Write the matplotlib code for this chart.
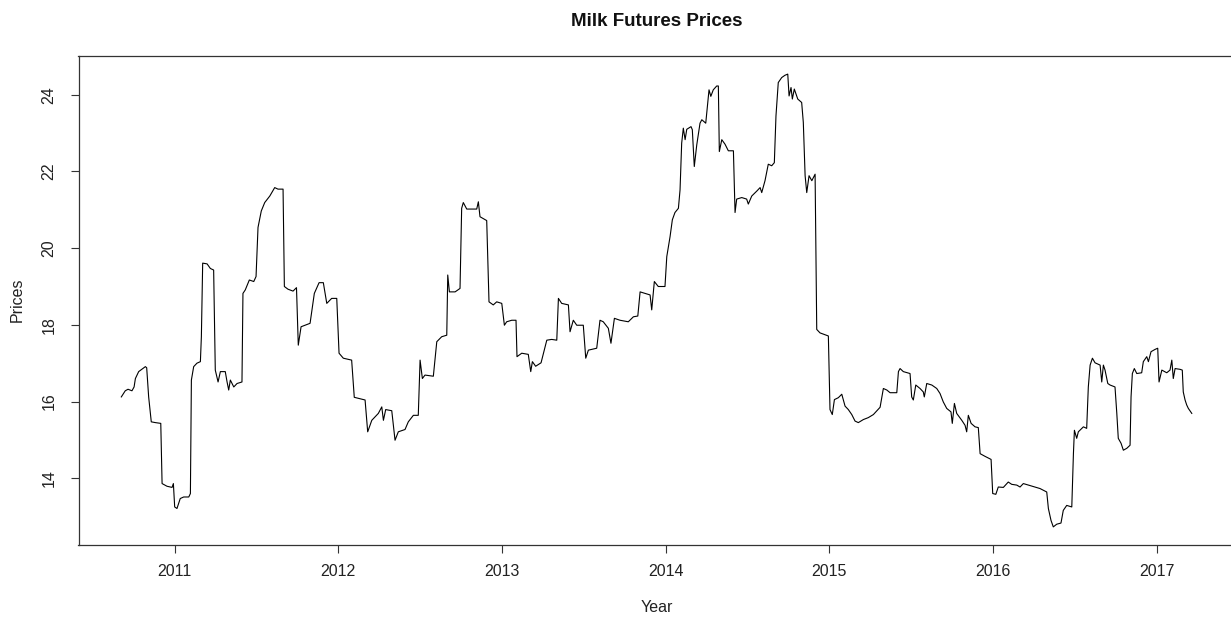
import matplotlib
matplotlib.use("Agg")
import matplotlib.pyplot as plt

plt.rcParams['font.family'] = ['Liberation Sans', 'DejaVu Sans']

title = "Milk Futures Prices"
xlabel = "Year"
ylabel = "Prices"
year_ticks = [2011, 2012, 2013, 2014, 2015, 2016, 2017]
price_ticks = [14, 16, 18, 20, 22, 24]

years = [
    2010.675, 2010.699, 2010.716, 2010.740, 2010.753, 2010.761, 2010.781, 2010.806, 2010.822, 2010.830,
    2010.842, 2010.858, 2010.883, 2010.916, 2010.924, 2010.954, 2010.985, 2010.993, 2011.001, 2011.015,
    2011.035, 2011.056, 2011.087, 2011.097, 2011.103, 2011.117, 2011.137, 2011.158, 2011.164, 2011.172,
    2011.199, 2011.219, 2011.239, 2011.249, 2011.266, 2011.280, 2011.310, 2011.321, 2011.331, 2011.341,
    2011.362, 2011.382, 2011.412, 2011.418, 2011.432, 2011.457, 2011.484, 2011.498, 2011.510, 2011.530,
    2011.551, 2011.582, 2011.612, 2011.632, 2011.663, 2011.671, 2011.693, 2011.724, 2011.745, 2011.756,
    2011.773, 2011.828, 2011.854, 2011.883, 2011.909, 2011.930, 2011.960, 2011.991, 2012.005, 2012.031,
    2012.082, 2012.098, 2012.164, 2012.180, 2012.205, 2012.245, 2012.266, 2012.276, 2012.290, 2012.327,
    2012.347, 2012.367, 2012.408, 2012.428, 2012.459, 2012.489, 2012.500, 2012.514, 2012.530, 2012.581,
    2012.602, 2012.632, 2012.663, 2012.669, 2012.679, 2012.714, 2012.744, 2012.754, 2012.764, 2012.785,
    2012.816, 2012.846, 2012.856, 2012.866, 2012.907, 2012.921, 2012.947, 2012.968, 2012.999, 2013.015,
    2013.029, 2013.060, 2013.086, 2013.092, 2013.121, 2013.161, 2013.176, 2013.186, 2013.206, 2013.239,
    2013.274, 2013.304, 2013.335, 2013.345, 2013.365, 2013.406, 2013.416, 2013.436, 2013.457, 2013.497,
    2013.512, 2013.528, 2013.579, 2013.599, 2013.619, 2013.650, 2013.666, 2013.687, 2013.721, 2013.772,
    2013.803, 2013.830, 2013.844, 2013.874, 2013.905, 2013.915, 2013.931, 2013.955, 2013.996, 2014.007,
    2014.027, 2014.041, 2014.057, 2014.078, 2014.088, 2014.098, 2014.108, 2014.119, 2014.129, 2014.155,
    2014.163, 2014.175, 2014.190, 2014.210, 2014.221, 2014.245, 2014.257, 2014.265, 2014.276, 2014.291,
    2014.312, 2014.322, 2014.328, 2014.343, 2014.363, 2014.383, 2014.414, 2014.424, 2014.434, 2014.465,
    2014.495, 2014.505, 2014.526, 2014.557, 2014.577, 2014.587, 2014.607, 2014.627, 2014.648, 2014.664,
    2014.674, 2014.688, 2014.709, 2014.729, 2014.746, 2014.754, 2014.766, 2014.774, 2014.786, 2014.807,
    2014.831, 2014.841, 2014.852, 2014.862, 2014.876, 2014.893, 2014.913, 2014.923, 2014.943, 2014.994,
    2015.004, 2015.018, 2015.031, 2015.055, 2015.076, 2015.096, 2015.116, 2015.137, 2015.157, 2015.177,
    2015.208, 2015.238, 2015.269, 2015.310, 2015.330, 2015.351, 2015.371, 2015.412, 2015.422, 2015.432,
    2015.452, 2015.493, 2015.503, 2015.513, 2015.528, 2015.554, 2015.574, 2015.580, 2015.595, 2015.626,
    2015.656, 2015.676, 2015.696, 2015.717, 2015.743, 2015.751, 2015.764, 2015.778, 2015.809, 2015.829,
    2015.839, 2015.849, 2015.866, 2015.890, 2015.910, 2015.921, 2015.951, 2015.988, 2015.998, 2016.017,
    2016.032, 2016.063, 2016.093, 2016.114, 2016.145, 2016.165, 2016.185, 2016.216, 2016.257, 2016.287,
    2016.328, 2016.338, 2016.354, 2016.368, 2016.389, 2016.415, 2016.429, 2016.450, 2016.481, 2016.491,
    2016.497, 2016.511, 2016.521, 2016.552, 2016.572, 2016.582, 2016.593, 2016.607, 2016.623, 2016.654,
    2016.664, 2016.674, 2016.684, 2016.701, 2016.715, 2016.745, 2016.756, 2016.765, 2016.782, 2016.796,
    2016.817, 2016.837, 2016.843, 2016.851, 2016.863, 2016.878, 2016.908, 2016.918, 2016.939, 2016.949,
    2016.965, 2016.990, 2017.006, 2017.014, 2017.031, 2017.061, 2017.081, 2017.092, 2017.101, 2017.112,
    2017.142, 2017.156, 2017.162, 2017.173, 2017.183, 2017.193, 2017.214,
]

prices = [
    16.12, 16.28, 16.32, 16.28, 16.38, 16.60, 16.78, 16.86, 16.91, 16.88,
    16.12, 15.47, 15.45, 15.43, 13.86, 13.79, 13.76, 13.86, 13.25, 13.21,
    13.47, 13.51, 13.51, 13.60, 16.56, 16.91, 17.00, 17.04, 17.69, 19.61,
    19.59, 19.47, 19.43, 16.82, 16.51, 16.78, 16.78, 16.51, 16.30, 16.56,
    16.38, 16.47, 16.51, 18.82, 18.91, 19.17, 19.13, 19.26, 20.54, 20.97,
    21.19, 21.36, 21.58, 21.54, 21.54, 19.00, 18.93, 18.88, 18.97, 17.47,
    17.95, 18.04, 18.82, 19.10, 19.10, 18.56, 18.69, 18.69, 17.26, 17.13,
    17.08, 16.11, 16.04, 15.21, 15.51, 15.69, 15.86, 15.51, 15.79, 15.76,
    14.99, 15.21, 15.27, 15.47, 15.64, 15.64, 17.08, 16.60, 16.69, 16.66,
    17.56, 17.69, 17.73, 19.30, 18.86, 18.86, 18.95, 21.04, 21.19, 21.02,
    21.02, 21.02, 21.21, 20.82, 20.72, 18.60, 18.52, 18.60, 18.56, 17.99,
    18.08, 18.12, 18.12, 17.17, 17.26, 17.23, 16.78, 17.04, 16.92, 17.01,
    17.60, 17.62, 17.60, 18.69, 18.56, 18.52, 17.82, 18.12, 17.99, 17.99,
    17.13, 17.34, 17.39, 18.12, 18.08, 17.91, 17.52, 18.17, 18.12, 18.08,
    18.21, 18.23, 18.86, 18.82, 18.78, 18.39, 19.13, 19.00, 19.00, 19.78,
    20.30, 20.74, 20.93, 21.04, 21.52, 22.74, 23.13, 22.83, 23.10, 23.17,
    23.09, 22.13, 22.69, 23.26, 23.35, 23.26, 23.78, 24.13, 23.96, 24.13,
    24.23, 24.23, 22.52, 22.83, 22.71, 22.54, 22.54, 20.93, 21.28, 21.32,
    21.28, 21.15, 21.36, 21.49, 21.58, 21.45, 21.76, 22.19, 22.15, 22.23,
    23.45, 24.32, 24.45, 24.51, 24.54, 23.97, 24.19, 23.89, 24.15, 23.89,
    23.80, 23.28, 21.89, 21.45, 21.89, 21.76, 21.93, 17.88, 17.79, 17.71,
    15.79, 15.66, 16.05, 16.10, 16.19, 15.88, 15.79, 15.66, 15.49, 15.45,
    15.53, 15.58, 15.66, 15.85, 16.34, 16.30, 16.23, 16.23, 16.78, 16.86,
    16.78, 16.73, 16.12, 16.04, 16.43, 16.34, 16.25, 16.12, 16.47, 16.43,
    16.34, 16.21, 15.99, 15.82, 15.73, 15.43, 15.95, 15.69, 15.51, 15.38,
    15.21, 15.64, 15.43, 15.34, 15.32, 14.64, 14.57, 14.49, 13.60, 13.58,
    13.77, 13.76, 13.90, 13.84, 13.82, 13.77, 13.86, 13.82, 13.77, 13.73,
    13.64, 13.21, 12.90, 12.73, 12.80, 12.83, 13.16, 13.29, 13.25, 14.64,
    15.25, 15.04, 15.21, 15.34, 15.30, 16.38, 16.95, 17.13, 17.01, 16.95,
    16.51, 16.95, 16.82, 16.47, 16.43, 16.38, 15.69, 15.04, 14.91, 14.73,
    14.78, 14.86, 16.12, 16.73, 16.86, 16.73, 16.75, 17.04, 17.17, 17.04,
    17.30, 17.36, 17.39, 16.51, 16.82, 16.75, 16.82, 17.08, 16.60, 16.86,
    16.84, 16.82, 16.25, 16.04, 15.91, 15.82, 15.69,
]

W, H = 1231, 618
fig = plt.figure(figsize=(W / 100, H / 100), dpi=100)
# plot region (R base graphics); its right edge lies just past the image edge
left, right, top, bottom = 78.5, 1234.6, 56, 545
ax = fig.add_axes([left / W, (H - bottom) / H, (right - left) / W, (bottom - top) / H])

ax.plot(years, prices, color="black", linewidth=0.8)

# R-style 4% range extension
xr = max(years) - min(years)
yr = max(prices) - min(prices)
ax.set_xlim(min(years) - 0.04 * xr, max(years) + 0.04 * xr)
ax.set_ylim(min(prices) - 0.04 * yr, max(prices) + 0.04 * yr)
ax.set_xticks(year_ticks)
ax.set_xticklabels([str(y) for y in year_ticks])
ax.set_yticks(price_ticks)
ax.set_yticklabels([str(p) for p in price_ticks], rotation=90, va="center")

for s in ax.spines.values():
    s.set_color("#333333")
    s.set_linewidth(0.9)
ax.tick_params(direction="out", length=6, width=0.8, color="#333333",
               labelsize=11.5, labelcolor="#222222")
ax.tick_params(axis="x", pad=8)
ax.tick_params(axis="y", pad=10)

cx = (left + right) / 2 / W
fig.text(cx, 1 - 21 / H, title, ha="center", va="center",
         fontsize=13.5, fontweight="bold", color="#111111")
fig.text(cx, 1 - 608 / H, xlabel, ha="center", va="center",
         fontsize=11.5, color="#222222")
fig.text(17 / W, 1 - 300 / H, ylabel, ha="center", va="center", rotation=90,
         fontsize=11.5, color="#222222")

fig.savefig("out.png", dpi=100)
